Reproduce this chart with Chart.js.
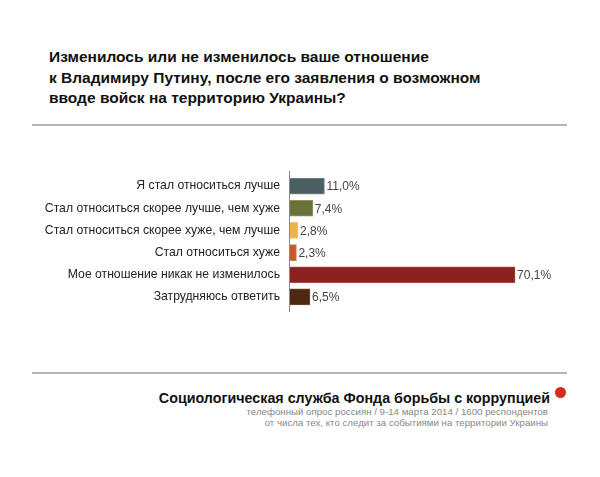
<!DOCTYPE html>
<html>
<head>
<meta charset="utf-8">
<script src="https://cdn.jsdelivr.net/npm/chart.js@4/dist/chart.umd.min.js"></script>
<style>
  html, body { margin: 0; padding: 0; background: #fff; }
  body { width: 600px; height: 477px; position: relative; overflow: hidden; font-family: "Liberation Sans", Arial, sans-serif; }
  #title { position: absolute; left: 49px; top: 47px; font-size: 15.5px; font-weight: bold; line-height: 20.5px; color: #111; }
  .rule { position: absolute; left: 32px; width: 535px; height: 0; border-top: 2px solid #b5b5b5; }
  #chartWrap { position: absolute; left: 0; top: 150px; width: 600px; height: 180px; }
  #foot { position: absolute; right: 50px; top: 389px; text-align: right; }
  #foot .main { font-size: 14.3px; font-weight: bold; color: #111; line-height: 18px; }
  #foot .sub { font-size: 9.7px; color: #888; line-height: 10.5px; margin-right: 2px; }
  #dot { position: absolute; left: 555px; top: 387px; width: 11px; height: 11px; border-radius: 50%; background: #d52b1e; }
</style>
</head>
<body>
<div id="title">Изменилось или не изменилось ваше отношение<br>к Владимиру Путину, после его заявления о возможном<br>вводе войск на территорию Украины?</div>
<div class="rule" style="top:124px"></div>
<div id="chartWrap"><canvas id="c" width="600" height="180"></canvas></div>
<div class="rule" style="top:372px"></div>
<div id="foot">
  <div class="main">Социологическая служба Фонда борьбы с коррупцией</div>
  <div class="sub">телефонный опрос россиян / 9-14 марта 2014 / 1600 респондентов</div>
  <div class="sub">от числа тех, кто следит за событиями на территории Украины</div>
</div>
<div id="dot"></div>
<script>
const categories = [
  "Я стал относиться лучше",
  "Стал относиться скорее лучше, чем хуже",
  "Стал относиться скорее хуже, чем лучше",
  "Стал относиться хуже",
  "Мое отношение никак не изменилось",
  "Затрудняюсь ответить"
];
const values = [11.0, 7.4, 2.8, 2.3, 70.1, 6.5];
const barColors = ["#4b5f61", "#6a7238", "#f2b04c", "#c65a24", "#8b2220", "#4e2810"];
const barBorders = ["#7a8b8c", "#8f9560", "#f5c478", "#d27a4e", "#a84a47", "#6e4a33"];

const axisLine = {
  id: 'axisLine',
  afterDraw(chart) {
    const ctx = chart.ctx, a = chart.chartArea;
    ctx.save();
    ctx.strokeStyle = '#8a8a8a';
    ctx.lineWidth = 1;
    ctx.beginPath();
    ctx.moveTo(a.left + 0.5, a.top - 4);
    ctx.lineTo(a.left + 0.5, a.bottom + 4);
    ctx.stroke();
    ctx.restore();
  }
};
const valueLabels = {
  id: 'valueLabels',
  afterDatasetsDraw(chart) {
    const ctx = chart.ctx;
    const meta = chart.getDatasetMeta(0);
    ctx.save();
    ctx.font = '12px "Liberation Sans", Arial, sans-serif';
    ctx.fillStyle = '#444';
    ctx.textBaseline = 'middle';
    ctx.textAlign = 'left';
    meta.data.forEach((bar, i) => {
      ctx.fillText(values[i].toFixed(1).replace('.', ',') + '%', bar.x + 2, bar.y + 1);
    });
    ctx.restore();
  }
};

new Chart(document.getElementById('c'), {
  type: 'bar',
  data: {
    labels: categories,
    datasets: [{
      data: values,
      backgroundColor: barColors,
      borderColor: barBorders,
      borderWidth: 1,
      borderSkipped: false,
      barThickness: 16
    }]
  },
  options: {
    indexAxis: 'y',
    responsive: false,
    animation: false,
    events: [],
    layout: { padding: { top: 25, bottom: 22, left: 0, right: 53 } },
    plugins: { legend: { display: false }, tooltip: { enabled: false } },
    scales: {
      x: { display: false, min: 0, max: 80 },
      y: {
        afterFit(scale) { scale.width = 289; },
        grid: { display: false, drawTicks: false },
        border: { display: false },
        ticks: {
          padding: 9,
          color: '#222',
          font: { family: '"Liberation Sans", Arial, sans-serif', size: 12.2 }
        }
      }
    }
  },
  plugins: [axisLine, valueLabels]
});
</script>
</body>
</html>
